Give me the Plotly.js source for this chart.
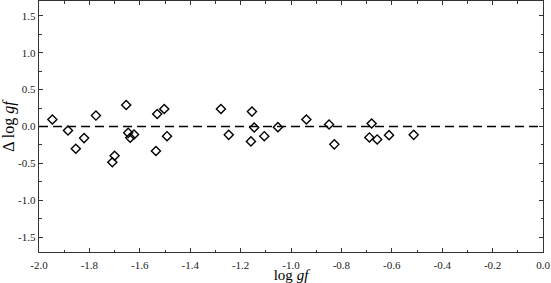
<!DOCTYPE html>
<html>
<head>
<meta charset="utf-8">
<script src="https://cdn.plot.ly/plotly-3.0.1.min.js"></script>
<style>
  html, body { margin: 0; padding: 0; background: #fff; }
  #chart { width: 551px; height: 283px; }
</style>
</head>
<body>
<div id="chart"></div>
<script>
// log gf values and their differences
const logGf = [-1.947, -1.885, -1.854, -1.821, -1.774, -1.709, -1.700, -1.654, -1.646, -1.638,
  -1.623, -1.536, -1.531, -1.503, -1.492, -1.278, -1.247, -1.155, -1.146, -1.159,
  -1.106, -1.052, -0.939, -0.849, -0.828, -0.680, -0.689, -0.658, -0.611, -0.513];
const deltaLogGf = [0.094, -0.054, -0.301, -0.157, 0.148, -0.485, -0.397, 0.291, -0.086, -0.153,
  -0.108, -0.332, 0.170, 0.237, -0.131, 0.237, -0.113, 0.202, -0.013, -0.202,
  -0.131, -0.009, 0.094, 0.027, -0.242, 0.040, -0.148, -0.175, -0.117, -0.113];

const xTickVals = [-2.0, -1.8, -1.6, -1.4, -1.2, -1.0, -0.8, -0.6, -0.4, -0.2, 0.0];
const xTickText = ["-2.0", "-1.8", "-1.6", "-1.4", "-1.2", "-1.0", "-0.8", "-0.6", "-0.4", "-0.2", "0.0"];
const yTickVals = [-1.5, -1.0, -0.5, 0.0, 0.5, 1.0, 1.5];
const yTickText = ["-1.5", "-1.0", "-0.5", "0.0", "0.5", "1.0", "1.5"];

const font = "Liberation Serif";

const axisCommon = {
  showgrid: false,
  zeroline: false,
  showline: true,
  linecolor: "#333",
  linewidth: 1.3,
  mirror: "allticks",
  ticks: "inside",
  ticklen: 4,
  tickwidth: 1,
  tickcolor: "#333",
  tickfont: { family: font, size: 11, color: "#222" },
  tickmode: "array"
};

const trace = {
  x: logGf,
  y: deltaLogGf,
  mode: "markers",
  type: "scatter",
  marker: {
    symbol: "diamond-open",
    size: 7,
    color: "#000",
    line: { width: 1.4, color: "#000" }
  },
  hoverinfo: "x+y"
};

const layout = {
  width: 551,
  height: 283,
  margin: { l: 39, r: 8, t: 1, b: 31 },
  paper_bgcolor: "#fff",
  plot_bgcolor: "#fff",
  showlegend: false,
  xaxis: Object.assign({}, axisCommon, {
    range: [-2.0, 0.0],
    tickvals: xTickVals,
    ticktext: xTickText,
    ticklabelstandoff: 2,
    minor: { dtick: 0.1, tick0: 0, ticks: "inside", ticklen: 2.5, tickcolor: "#333" },
    title: {
      text: "log <i>gf</i>",
      font: { family: font, size: 15, color: "#000" },
      standoff: 3
    }
  }),
  yaxis: Object.assign({}, axisCommon, {
    range: [-1.7, 1.7],
    tickvals: yTickVals,
    ticktext: yTickText,
    minor: { dtick: 0.25, tick0: 0, ticks: "inside", ticklen: 2.5, tickcolor: "#333" },
    title: {
      text: "Δ log <i>gf</i>",
      font: { family: font, size: 16, color: "#000" },
      standoff: 5
    }
  }),
  shapes: [{
    type: "line",
    xref: "paper", yref: "y",
    x0: 0, x1: 1, y0: 0, y1: 0,
    line: { color: "#000", width: 1.3, dash: "9px,5px" }
  }]
};

Plotly.newPlot("chart", [trace], layout, { displayModeBar: false, staticPlot: true });
</script>
</body>
</html>
